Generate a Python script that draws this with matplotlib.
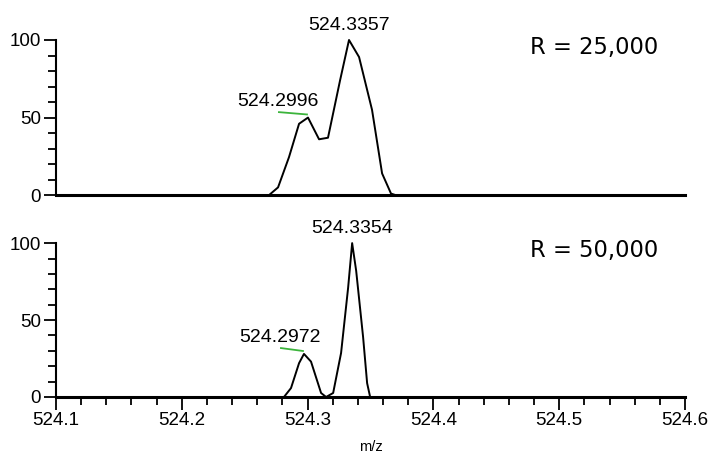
import matplotlib.pyplot as plt
from matplotlib.ticker import MultipleLocator

# R = 25,000 profile
mz_25k = [524.10, 524.2693, 524.2765, 524.2852, 524.2932, 524.3003, 524.3091, 524.3162,
          524.3258, 524.3329, 524.3409, 524.3512, 524.3592, 524.3663, 524.3700, 524.60]
int_25k = [0, 0, 5, 24.5, 46, 50, 36, 37, 74, 100, 89, 55, 14, 1, 0, 0]

# R = 50,000 profile
mz_50k = [524.10, 524.2812, 524.2868, 524.2932, 524.2971, 524.3027, 524.3107, 524.3147,
          524.3203, 524.3266, 524.3322, 524.3354, 524.3386, 524.3441, 524.3473, 524.3497, 524.60]
int_50k = [0, 0, 5.8, 22, 28, 23, 2.6, 0, 2.6, 28.6, 71, 100, 82, 39, 9, 0, 0]

labels_25k = [("524.3357", 524.3329, 104), ("524.2996", 524.2765, 55)]
labels_50k = [("524.3354", 524.3354, 104), ("524.2972", 524.2781, 33)]
green_25k = ([524.2772, 524.2995], [53.5, 52])
green_50k = ([524.2788, 524.2963], [31.8, 29.9])

fig = plt.figure(figsize=(7.1, 4.57), dpi=100)
plt.rcParams['font.family'] = ['Liberation Sans', 'DejaVu Sans']

ax1 = fig.add_axes([0.0789, 0.573, 0.8859, 0.3395])
ax2 = fig.add_axes([0.0789, 0.1313, 0.8859, 0.3367])

panels = [
    (ax1, mz_25k, int_25k, labels_25k, green_25k, "R = 25,000"),
    (ax2, mz_50k, int_50k, labels_50k, green_50k, "R = 50,000"),
]

for ax, mz, inten, labels, green, rtext in panels:
    ax.plot(mz, inten, color='black', lw=1.4, clip_on=False)
    ax.plot(green[0], green[1], color='#3cb43c', lw=1.3)
    for txt, x, y in labels:
        ax.text(x, y, txt, ha='center', va='bottom', fontsize=14)
    ax.text(524.5277, 95, rtext, ha='center', va='center', fontsize=16.3,
            family='DejaVu Sans')
    ax.set_xlim(524.1, 524.6)
    ax.set_ylim(0, 100)
    for s in ['top', 'right']:
        ax.spines[s].set_visible(False)
    ax.spines['left'].set_linewidth(1.5)
    ax.spines['bottom'].set_linewidth(2.2)
    ax.set_yticks([0, 50, 100])
    ax.yaxis.set_minor_locator(MultipleLocator(10))
    ax.tick_params(axis='y', which='major', length=9, width=1.3, labelsize=13.5, pad=2)
    ax.tick_params(axis='y', which='minor', length=5.5, width=1.3)

ax1.tick_params(axis='x', which='both', bottom=False, labelbottom=False)
ax2.xaxis.set_major_locator(MultipleLocator(0.1))
ax2.xaxis.set_minor_locator(MultipleLocator(0.02))
ax2.xaxis.set_major_formatter(plt.FuncFormatter(lambda v, p: f"{v:.1f}"))
ax2.tick_params(axis='x', which='major', length=9, width=1.3, labelsize=13.5, pad=2)
ax2.tick_params(axis='x', which='minor', length=6, width=1.3)
ax2.set_xlabel("m/z", fontsize=10.5, labelpad=8)

fig.savefig("out.png", dpi=100)
